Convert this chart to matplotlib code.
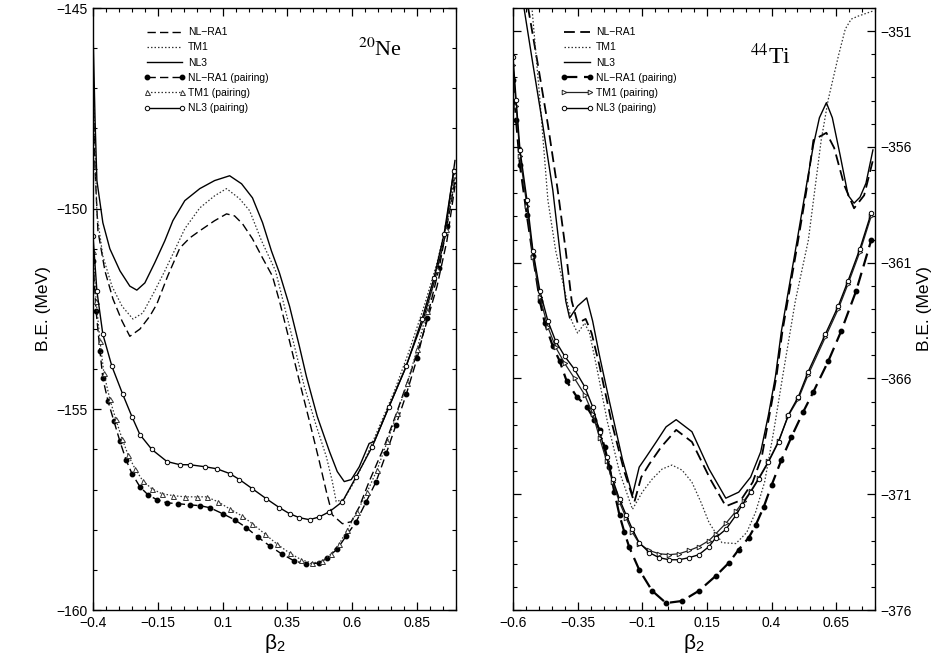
import matplotlib
matplotlib.use("Agg")
import matplotlib.pyplot as plt
from matplotlib.ticker import MultipleLocator

plt.rcParams["font.family"] = ["Liberation Sans", "DejaVu Sans"]
plt.rcParams["mathtext.fontset"] = "stix"

# ---- 20Ne: beta_2 vs binding energy (MeV) ----
ne_nl3_b = [-0.4, -0.392, -0.385, -0.362, -0.335, -0.296, -0.258, -0.231, -0.2, -0.162, -0.123, -0.092,
            -0.046, 0.012, 0.069, 0.127, 0.173, 0.215, 0.254, 0.288, 0.319, 0.358, 0.396, 0.423, 0.465,
            0.512, 0.542, 0.569, 0.596, 0.627, 0.665, 0.685, 0.742, 0.8, 0.869, 0.915, 0.954, 0.996]
ne_nl3_e = [-145.55, -147.8, -149.3, -150.35, -151.0, -151.55, -151.93, -152.03, -151.85, -151.35, -150.8,
            -150.3, -149.8, -149.5, -149.3, -149.18, -149.38, -149.73, -150.35, -151.05, -151.6, -152.43,
            -153.43, -154.18, -155.18, -156.05, -156.55, -156.8, -156.75, -156.43, -155.85, -155.8, -154.93,
            -154.05, -152.85, -151.85, -150.8, -148.8]

ne_tm1_b = [-0.4, -0.392, -0.385, -0.362, -0.327, -0.288, -0.246, -0.208, -0.162, -0.123, -0.092, -0.046,
            0.012, 0.069, 0.115, 0.165, 0.204, 0.25, 0.304, 0.338, 0.377, 0.415, 0.462, 0.5, 0.523, 0.538,
            0.569, 0.608, 0.646, 0.704, 0.762, 0.819, 0.877, 0.927, 0.965, 0.996]
ne_tm1_e = [-146.3, -148.55, -150.13, -151.18, -151.93, -152.43, -152.75, -152.6, -152.05, -151.55, -151.13,
            -150.5, -149.98, -149.68, -149.5, -149.75, -150.05, -150.8, -151.55, -152.43, -153.43, -154.43,
            -155.43, -156.18, -156.8, -157.3, -157.23, -156.8, -156.3, -155.43, -154.55, -153.55, -152.43,
            -151.35, -150.3, -149.1]

ne_nlra1_b = [-0.4, -0.392, -0.381, -0.354, -0.323, -0.288, -0.258, -0.219, -0.181, -0.154, -0.112, -0.065,
              -0.027, 0.012, 0.069, 0.115, 0.146, 0.177, 0.215, 0.254, 0.292, 0.319, 0.358, 0.396, 0.435,
              0.473, 0.5, 0.523, 0.562, 0.596, 0.627, 0.665, 0.723, 0.773, 0.827, 0.877, 0.927, 0.965, 0.996]
ne_nlra1_e = [-146.93, -149.05, -150.55, -151.55, -152.25, -152.8, -153.18, -153.0, -152.68, -152.38, -151.68,
              -150.98, -150.73, -150.55, -150.3, -150.13, -150.18, -150.38, -150.75, -151.23, -151.68, -152.3,
              -153.3, -154.3, -155.3, -156.3, -157.05, -157.63, -157.85, -157.8, -157.43, -156.8, -155.93,
              -155.05, -154.05, -153.05, -151.93, -150.8, -149.43]

ne_nl3p_b = [-0.4, -0.385, -0.362, -0.327, -0.285, -0.25, -0.219, -0.173, -0.115, -0.065, -0.027, 0.031,
             0.077, 0.127, 0.165, 0.215, 0.269, 0.319, 0.358, 0.396, 0.435, 0.473, 0.512, 0.562, 0.615,
             0.677, 0.742, 0.808, 0.869, 0.915, 0.954, 0.992]
ne_nl3p_e = [-150.68, -152.05, -153.13, -153.93, -154.63, -155.18, -155.63, -156.0, -156.3, -156.38, -156.38,
             -156.43, -156.48, -156.6, -156.75, -156.98, -157.23, -157.45, -157.6, -157.7, -157.75, -157.68,
             -157.55, -157.3, -156.68, -155.93, -154.93, -153.93, -152.75, -151.73, -150.63, -149.05]

ne_nlra1p_b = [-0.4, -0.388, -0.373, -0.362, -0.342, -0.319, -0.296, -0.273, -0.25, -0.219, -0.188, -0.154,
               -0.115, -0.073, -0.027, 0.012, 0.05, 0.1, 0.146, 0.192, 0.235, 0.281, 0.327, 0.377, 0.423,
               0.473, 0.504, 0.542, 0.577, 0.615, 0.654, 0.692, 0.731, 0.769, 0.808, 0.85, 0.888, 0.935,
               0.965, 0.996]
ne_nlra1p_e = [-151.3, -152.55, -153.55, -154.23, -154.8, -155.3, -155.8, -156.25, -156.6, -156.93, -157.13,
               -157.25, -157.33, -157.35, -157.38, -157.4, -157.45, -157.6, -157.75, -157.95, -158.18, -158.4,
               -158.6, -158.78, -158.85, -158.83, -158.7, -158.48, -158.15, -157.8, -157.3, -156.8, -156.1,
               -155.38, -154.63, -153.73, -152.73, -151.48, -150.43, -149.3]

ne_tm1p_b = [-0.4, -0.388, -0.373, -0.358, -0.335, -0.312, -0.288, -0.265, -0.238, -0.208, -0.173, -0.135,
             -0.092, -0.046, 0.0, 0.038, 0.081, 0.127, 0.173, 0.215, 0.262, 0.308, 0.358, 0.404, 0.446,
             0.485, 0.519, 0.55, 0.581, 0.619, 0.658, 0.696, 0.735, 0.773, 0.812, 0.85, 0.888, 0.927,
             0.962, 0.996]
ne_tm1p_e = [-151.05, -152.3, -153.3, -154.1, -154.75, -155.25, -155.73, -156.13, -156.48, -156.78, -156.98,
             -157.1, -157.15, -157.18, -157.18, -157.18, -157.3, -157.48, -157.65, -157.85, -158.1, -158.35,
             -158.58, -158.75, -158.83, -158.78, -158.6, -158.35, -158.0, -157.55, -157.05, -156.5, -155.8,
             -155.1, -154.35, -153.5, -152.55, -151.5, -150.5, -149.25]

# ---- 44Ti: beta_2 vs binding energy (MeV) ----
ti_nl3_b = [-0.558, -0.523, -0.485, -0.446, -0.419, -0.396, -0.381, -0.35, -0.315, -0.292, -0.265, -0.227,
            -0.177, -0.138, -0.112, -0.085, -0.046, -0.008, 0.031, 0.092, 0.158, 0.223, 0.273, 0.319, 0.358,
            0.388, 0.415, 0.438, 0.492, 0.535, 0.562, 0.585, 0.612, 0.635, 0.665, 0.696, 0.719, 0.742,
            0.765, 0.792]
ti_nl3_e = [-349.96, -352.43, -355.04, -357.87, -360.48, -362.65, -363.39, -362.87, -362.52, -363.52, -365.04,
            -367.0, -369.48, -371.04, -369.83, -369.39, -368.74, -368.09, -367.78, -368.3, -369.91, -371.17,
            -370.91, -370.26, -369.17, -367.57, -365.91, -363.96, -360.48, -357.65, -355.91, -354.74, -354.09,
            -354.74, -356.35, -358.09, -358.43, -358.17, -357.57, -356.13]

ti_nlra1_b = [-0.542, -0.504, -0.465, -0.427, -0.396, -0.373, -0.35, -0.319, -0.296, -0.265, -0.219, -0.169,
              -0.131, -0.104, -0.073, -0.027, 0.031, 0.092, 0.165, 0.223, 0.281, 0.327, 0.362, 0.392, 0.419,
              0.442, 0.496, 0.535, 0.562, 0.612, 0.642, 0.681, 0.719, 0.758, 0.792]
ti_nlra1_e = [-349.96, -352.43, -355.04, -357.87, -360.48, -362.65, -363.61, -363.43, -364.04, -365.48,
              -367.87, -370.04, -371.35, -370.26, -369.7, -368.96, -368.22, -368.74, -370.39, -371.52, -371.26,
              -370.48, -369.39, -367.57, -365.91, -363.96, -360.48, -357.87, -355.7, -355.39, -356.04, -357.65,
              -358.65, -358.09, -356.57]

ti_tm1_b = [-0.527, -0.496, -0.465, -0.435, -0.4, -0.373, -0.35, -0.323, -0.304, -0.273, -0.235, -0.188,
            -0.138, -0.1, -0.062, -0.023, 0.015, 0.054, 0.092, 0.127, 0.158, 0.208, 0.262, 0.304, 0.338,
            0.373, 0.408, 0.446, 0.492, 0.542, 0.592, 0.619, 0.658, 0.685, 0.708, 0.735, 0.792]
ti_tm1_e = [-349.96, -353.96, -358.3, -360.48, -362.22, -363.52, -364.04, -363.61, -364.04, -365.7, -367.87,
            -370.04, -371.65, -370.91, -370.35, -369.91, -369.74, -369.96, -370.48, -371.35, -372.22, -373.09,
            -373.13, -372.65, -371.78, -370.48, -368.3, -365.7, -362.65, -360.04, -355.7, -353.96, -352.09,
            -350.91, -350.48, -350.35, -350.13]

ti_nl3p_b = [-0.6, -0.588, -0.573, -0.546, -0.523, -0.496, -0.465, -0.435, -0.4, -0.362, -0.323, -0.292,
             -0.265, -0.238, -0.215, -0.188, -0.162, -0.138, -0.112, -0.073, -0.035, 0.004, 0.042, 0.081,
             0.119, 0.158, 0.185, 0.223, 0.262, 0.285, 0.319, 0.35, 0.388, 0.427, 0.465, 0.504, 0.542,
             0.608, 0.658, 0.696, 0.742, 0.785]
ti_nl3p_e = [-352.13, -353.96, -356.13, -358.3, -360.48, -362.22, -363.52, -364.39, -365.04, -365.61, -366.35,
             -367.22, -368.3, -369.39, -370.35, -371.22, -371.91, -372.52, -373.09, -373.52, -373.74, -373.83,
             -373.83, -373.74, -373.61, -373.26, -372.87, -372.52, -371.91, -371.48, -370.91, -370.35, -369.61,
             -368.74, -367.57, -366.78, -365.7, -364.09, -362.87, -361.78, -360.39, -358.87]

ti_tm1p_b = [-0.6, -0.588, -0.573, -0.546, -0.523, -0.496, -0.465, -0.435, -0.4, -0.362, -0.323, -0.292,
             -0.265, -0.238, -0.215, -0.188, -0.162, -0.138, -0.112, -0.073, -0.035, 0.004, 0.042, 0.081,
             0.119, 0.158, 0.185, 0.223, 0.262, 0.292, 0.319, 0.35, 0.388, 0.427, 0.465, 0.504, 0.542,
             0.608, 0.658, 0.696, 0.742, 0.785]
ti_tm1p_e = [-352.48, -354.22, -356.39, -358.57, -360.74, -362.48, -363.78, -364.65, -365.35, -366.0, -366.7,
             -367.52, -368.57, -369.57, -370.48, -371.35, -372.04, -372.65, -373.13, -373.43, -373.57, -373.61,
             -373.57, -373.43, -373.26, -373.0, -372.7, -372.26, -371.74, -371.3, -370.87, -370.3, -369.57,
             -368.7, -367.61, -366.87, -365.83, -364.22, -363.0, -361.91, -360.52, -359.0]

ti_nlra1p_b = [-0.6, -0.588, -0.573, -0.546, -0.523, -0.496, -0.477, -0.446, -0.419, -0.392, -0.354, -0.315,
               -0.285, -0.265, -0.246, -0.227, -0.208, -0.188, -0.169, -0.15, -0.112, -0.062, -0.008, 0.054,
               0.119, 0.185, 0.235, 0.273, 0.312, 0.338, 0.369, 0.4, 0.438, 0.477, 0.523, 0.562, 0.619,
               0.669, 0.727, 0.785]
ti_nlra1p_e = [-353.09, -354.83, -356.78, -358.96, -360.7, -362.65, -363.61, -364.61, -365.26, -366.13,
               -366.78, -367.22, -367.78, -368.22, -368.96, -369.83, -370.91, -371.91, -372.65, -373.3, -374.26,
               -375.17, -375.7, -375.61, -375.17, -374.52, -373.96, -373.39, -372.87, -372.35, -371.57, -370.61,
               -369.52, -368.52, -367.43, -366.57, -365.26, -363.96, -362.22, -360.04]

ne_xticks = [-0.4, -0.15, 0.1, 0.35, 0.6, 0.85]
ne_xlabels = ["\u22120.4", "\u22120.15", "0.1", "0.35", "0.6", "0.85"]
ne_yticks = [-160, -155, -150, -145]
ti_xticks = [-0.6, -0.35, -0.1, 0.15, 0.4, 0.65]
ti_xlabels = ["\u22120.6", "\u22120.35", "\u22120.1", "0.15", "0.4", "0.65"]
ti_yticks = [-376, -371, -366, -361, -356, -351]

dash = (0, (6, 3))
dot = (0, (1.2, 1.6))


def style_axes(ax, xticks, xlabels, yticks, xlim, ylim):
    ax.set_xlim(*xlim)
    ax.set_ylim(*ylim)
    ax.set_xticks(xticks, xlabels)
    ax.set_yticks(yticks, [f"\u2212{abs(v)}" for v in yticks])
    ax.xaxis.set_minor_locator(MultipleLocator(0.05))
    ax.yaxis.set_minor_locator(MultipleLocator(1))
    ax.tick_params(which="both", direction="in", top=True, bottom=True, left=True, right=True,
                   labelsize=10, pad=4)
    ax.tick_params(which="major", length=6, width=0.9)
    ax.tick_params(which="minor", length=3, width=0.8)
    for s in ax.spines.values():
        s.set_linewidth(1.0)
    ax.set_xlabel("\u03b2$_\\mathregular{2}$", fontsize=15, labelpad=2)
    ax.set_ylabel("B.E. (MeV)", fontsize=12.5)


fig = plt.figure(figsize=(9.44, 6.62), dpi=100)
ax1 = fig.add_axes([93 / 944, 1 - 610 / 662, 363 / 944, 602 / 662])
ax2 = fig.add_axes([513 / 944, 1 - 610 / 662, 362 / 944, 602 / 662])

# 20Ne
ax1.plot(ne_nlra1_b, ne_nlra1_e, color="black", ls=dash, lw=1.0, label="NL\u2212RA1")
ax1.plot(ne_tm1_b, ne_tm1_e, color="#333333", ls=dot, lw=0.9, label="TM1")
ax1.plot(ne_nl3_b, ne_nl3_e, color="black", ls="-", lw=1.0, label="NL3")
ax1.plot(ne_nlra1p_b, ne_nlra1p_e, color="black", ls=dash, lw=1.0, marker="o", ms=3.2,
         mfc="black", label="NL\u2212RA1 (pairing)")
ax1.plot(ne_tm1p_b, ne_tm1p_e, color="#333333", ls=dot, lw=0.9, marker="^", ms=3.6, mfc="white",
         mew=0.7, label="TM1 (pairing)")
ax1.plot(ne_nl3p_b, ne_nl3p_e, color="black", ls="-", lw=1.0, marker="o", ms=3.2, mfc="white",
         mew=0.7, label="NL3 (pairing)")
style_axes(ax1, ne_xticks, ne_xlabels, ne_yticks, (-0.4, 1.0), (-160, -145))
ax1.legend(loc="upper left", bbox_to_anchor=(0.13, 0.975), borderaxespad=0, frameon=False,
           fontsize=7.5, handlelength=3.9, handletextpad=0.3, labelspacing=0.5, numpoints=2)
ax1.text(0.79, 0.93, r"$^{20}$Ne", transform=ax1.transAxes, fontsize=16, family="Liberation Serif",
         ha="center", va="center")

# 44Ti
ax2.plot(ti_nlra1_b, ti_nlra1_e, color="black", ls=dash, lw=1.3, label="NL\u2212RA1")
ax2.plot(ti_tm1_b, ti_tm1_e, color="#333333", ls=dot, lw=0.9, label="TM1")
ax2.plot(ti_nl3_b, ti_nl3_e, color="black", ls="-", lw=1.0, label="NL3")
ax2.plot(ti_nlra1p_b, ti_nlra1p_e, color="black", ls=dash, lw=1.6, marker="o", ms=3.2,
         mfc="black", label="NL\u2212RA1 (pairing)")
ax2.plot(ti_tm1p_b, ti_tm1p_e, color="#222222", ls="-", lw=0.9, marker=">", ms=3.3, mfc="white",
         mew=0.7, label="TM1 (pairing)")
ax2.plot(ti_nl3p_b, ti_nl3p_e, color="black", ls="-", lw=1.0, marker="o", ms=3.2, mfc="white",
         mew=0.7, label="NL3 (pairing)")
style_axes(ax2, ti_xticks, ti_xlabels, ti_yticks, (-0.6, 0.8), (-376, -350))
ax2.tick_params(which="both", labelleft=False, labelright=True)
ax2.yaxis.set_label_position("right")
ax2.legend(loc="upper left", bbox_to_anchor=(0.12, 0.975), borderaxespad=0, frameon=False,
           fontsize=7.5, handlelength=3.1, handletextpad=0.3, labelspacing=0.5, numpoints=2)
ax2.text(0.71, 0.92, r"$^{44}$Ti", transform=ax2.transAxes, fontsize=17, family="Liberation Serif",
         ha="center", va="center")

fig.savefig("out.png", dpi=100)
